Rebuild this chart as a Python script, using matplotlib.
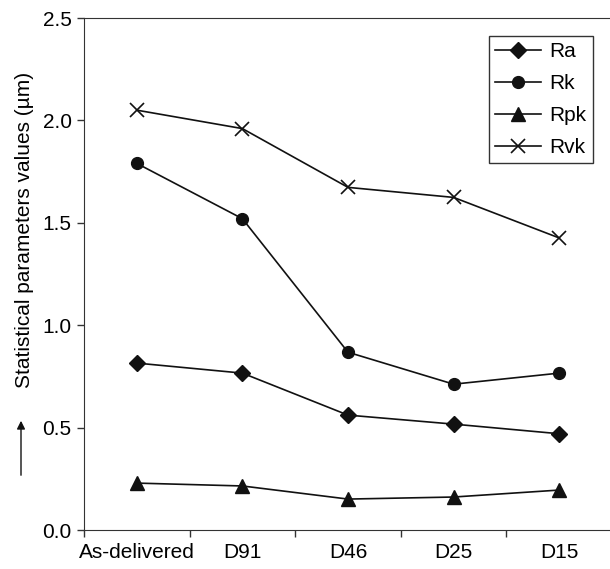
import matplotlib
matplotlib.use('Agg')
import matplotlib.pyplot as plt

plt.rcParams['font.family'] = ['Liberation Sans', 'DejaVu Sans']

samples = ['As-delivered', 'D91', 'D46', 'D25', 'D15']
ra = [0.815, 0.766, 0.561, 0.517, 0.470]
rk = [1.79, 1.52, 0.868, 0.712, 0.766]
rpk = [0.229, 0.215, 0.151, 0.161, 0.195]
rvk = [2.05, 1.96, 1.673, 1.624, 1.426]

fig = plt.figure(figsize=(6.10, 5.69), dpi=100)
ax = fig.add_axes([84/610, 39/569, 528/610, 512/569])

x = [i + 0.5 for i in range(len(samples))]
kw = dict(color='#111111', lw=1.2)
ax.plot(x, ra, marker='D', ms=8, label='Ra', **kw)
ax.plot(x, rk, marker='o', ms=8.5, label='Rk', **kw)
ax.plot(x, rpk, marker='^', ms=10, label='Rpk', **kw)
ax.plot(x, rvk, marker='x', ms=10, mew=1.2, label='Rvk', **kw)

ax.set_xlim(0, 5)
ax.set_ylim(0, 2.5)
ax.set_xticks(range(6))
ax.set_xticklabels([])
ax.set_xticks(x, minor=True)
ax.set_xticklabels(samples, minor=True)
ax.tick_params(axis='x', which='minor', length=0, pad=9, labelsize=15)
ax.tick_params(axis='x', which='major', length=5, width=1, color='#333333')
ax.set_yticks([0, 0.5, 1.0, 1.5, 2.0, 2.5])
ax.set_yticklabels(['%.1f' % v for v in [0, 0.5, 1.0, 1.5, 2.0, 2.5]])
ax.tick_params(axis='y', length=5, width=1, labelsize=15, pad=4, color='#333333')
for s in ['left', 'bottom', 'top']:
    ax.spines[s].set_color('#333333')
ax.spines['right'].set_visible(False)

ax.set_ylabel('Statistical parameters values (µm)', fontsize=15)
ax.yaxis.set_label_coords(-0.095, 0.586)

fig.patches.append(matplotlib.patches.FancyArrowPatch(
    (21/610, 1 - 478/569), (21/610, 1 - 418/569), transform=fig.transFigure,
    arrowstyle='-|>', mutation_scale=12, color='#111111', lw=1))

leg = ax.legend(loc='upper right', bbox_to_anchor=(593/610, 1 - 36/569),
                bbox_transform=fig.transFigure, fontsize=15, fancybox=False,
                edgecolor='#333333', framealpha=1, handlelength=2.2,
                borderpad=0.3, labelspacing=0.62, handletextpad=0.4,
                borderaxespad=0)
leg.get_frame().set_linewidth(1)

fig.savefig('out.png', dpi=100)
